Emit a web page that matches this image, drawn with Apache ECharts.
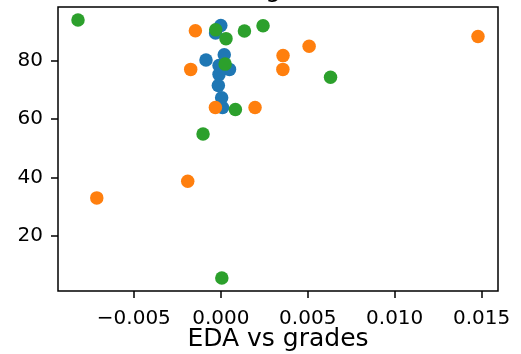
<!DOCTYPE html>
<html>
<head>
<meta charset="utf-8">
<script src="https://cdn.jsdelivr.net/npm/echarts@6/dist/echarts.min.js"></script>
<style>
  html, body { margin: 0; padding: 0; background: #fff; }
  #chart { width: 521px; height: 354px; }
</style>
</head>
<body>
<div id="chart"></div>
<script>
// EDA measurement vs grades, three groups
const blueX = [0.0000, -0.0003, 0.0002, -0.00085, -0.0001, 0.0005, -0.0001, -0.00014, 0.00005, 0.0001];
const blueY = [92.0, 89.4, 82.0, 80.2, 78.3, 77.0, 75.3, 71.5, 67.3, 64.0];

const orangeX = [-0.00146, 0.01479, 0.00508, 0.00358, 0.00357, -0.00173, -0.00031, 0.00197, -0.0019, -0.00713];
const orangeY = [90.2, 88.2, 84.9, 81.7, 77.0, 77.0, 64.0, 64.0, 38.8, 33.1];

const greenX = [-0.00821, -0.00029, 0.0003, 0.00136, 0.00243, 0.00025, 0.00631, 0.00084, -0.00102, 0.00006];
const greenY = [93.9, 90.5, 87.5, 90.1, 91.9, 78.8, 74.3, 63.3, 54.9, 5.7];

const xTicks = [-0.005, 0.000, 0.005, 0.010, 0.015];
const yTicks = [20, 40, 60, 80];

const colors = ['#1f77b4', '#ff7f0e', '#2ca02c'];
const FONT = 'DejaVu Sans';

function pairs(xs, ys) { return xs.map((x, i) => [x, ys[i]]); }

// autoscale with 5% padding on each side
function padded(arrs) {
  const all = [].concat(...arrs);
  const lo = Math.min(...all), hi = Math.max(...all);
  const p = (hi - lo) * 0.05;
  return [lo - p, hi + p];
}
const [xMin, xMax] = padded([blueX, orangeX, greenX]);
const [yMin, yMax] = padded([blueY, orangeY, greenY]);

const chart = echarts.init(document.getElementById('chart'), null, { renderer: 'canvas' });

const scatter = (name, xs, ys, color) => ({
  name, type: 'scatter',
  data: pairs(xs, ys),
  symbol: 'circle',
  symbolSize: 13.5,
  itemStyle: { color: color, opacity: 1 },
  emphasis: { disabled: true },
  animation: false
});

chart.setOption({
  animation: false,
  backgroundColor: '#fff',
  title: {
    text: 'EDA vs grades',
    left: 'center',
    top: -27,
    textStyle: { fontFamily: FONT, fontSize: 25, fontWeight: 'normal', color: '#000' }
  },
  grid: {
    left: 58, right: 23, top: 7, bottom: 63,
    outerBoundsMode: 'none',
    containLabel: false,
    show: true, borderColor: '#000', borderWidth: 1.5, backgroundColor: 'transparent'
  },
  xAxis: {
    type: 'value',
    min: xMin, max: xMax,
    name: 'EDA vs grades',
    nameLocation: 'middle',
    nameGap: 36,
    nameMoveOverlap: false,
    nameTextStyle: { fontFamily: FONT, fontSize: 25, color: '#000' },
    axisLine: { show: false, onZero: false },
    splitLine: { show: false },
    axisTick: { show: true, length: 7, inside: false, lineStyle: { color: '#000', width: 1.5 }, customValues: xTicks },
    axisLabel: {
      fontFamily: FONT, fontSize: 20, color: '#000', margin: 18,
      customValues: xTicks,
      formatter: v => (v < 0 ? '\u2212' : '') + Math.abs(v).toFixed(3)
    }
  },
  yAxis: {
    type: 'value',
    min: yMin, max: yMax,
    axisLine: { show: false, onZero: false },
    splitLine: { show: false },
    axisTick: { show: true, length: 7, inside: false, lineStyle: { color: '#000', width: 1.5 }, customValues: yTicks },
    axisLabel: {
      fontFamily: FONT, fontSize: 20, color: '#000', margin: 15,
      customValues: yTicks,
      formatter: v => String(Math.round(v))
    }
  },
  series: [
    scatter('blue', blueX, blueY, colors[0]),
    scatter('orange', orangeX, orangeY, colors[1]),
    scatter('green', greenX, greenY, colors[2])
  ]
});
</script>
</body>
</html>
